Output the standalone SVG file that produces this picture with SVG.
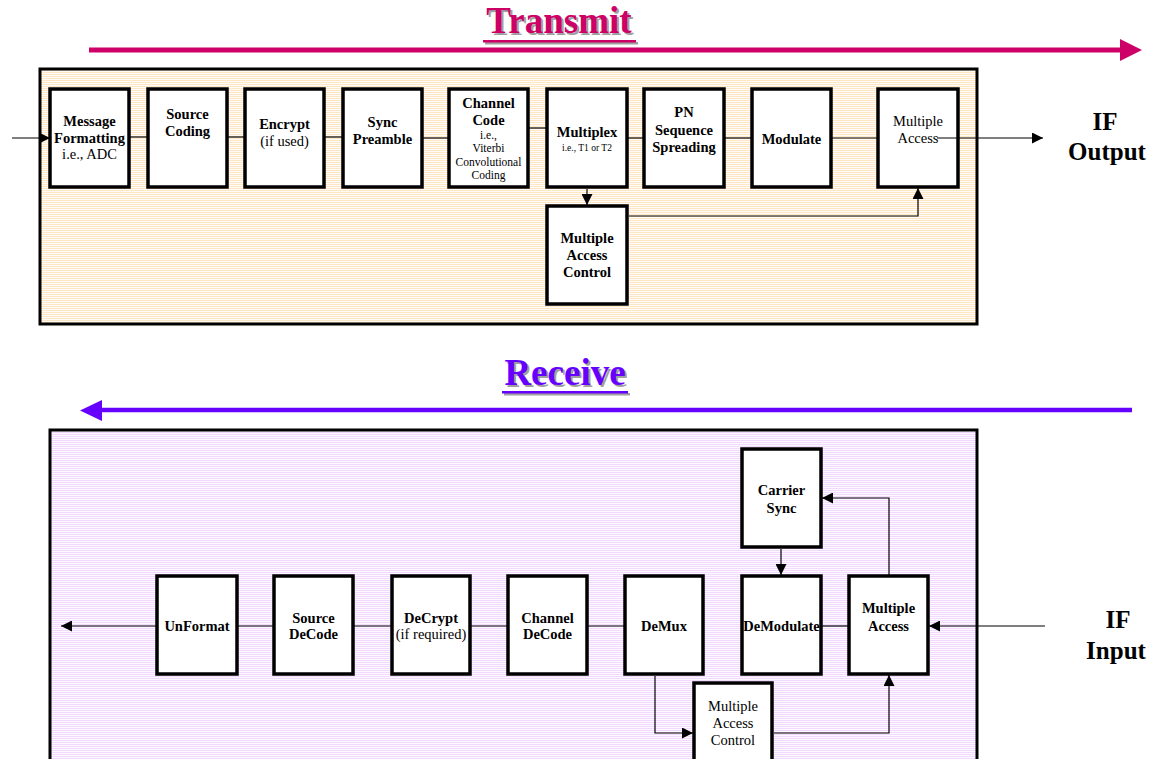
<svg xmlns="http://www.w3.org/2000/svg" width="1154" height="759" viewBox="0 0 1154 759">
<defs>
<pattern id="peach" width="4" height="2" patternUnits="userSpaceOnUse"><rect width="4" height="2" fill="#FFFCF7"/><rect width="4" height="1" fill="#FFE6C4"/></pattern>
<pattern id="lav" width="4" height="2" patternUnits="userSpaceOnUse"><rect width="4" height="2" fill="#FEF9FF"/><rect width="4" height="1" fill="#F2D9FF"/></pattern>
<marker id="ah" viewBox="0 0 10 10" refX="10" refY="5" markerWidth="11" markerHeight="11" markerUnits="userSpaceOnUse" orient="auto"><path d="M0,0 L10,5 L0,10 Z" fill="#000"/></marker>
</defs>
<style>
.box{fill:#fff;stroke:#000;stroke-width:3.5}
.panel{stroke:#000;stroke-width:3}
.c{fill:none;stroke:#000;stroke-width:1.2}
.ca{fill:none;stroke:#000;stroke-width:1.2;marker-end:url(#ah)}
text{font-family:"Liberation Serif","Times New Roman",serif;text-anchor:middle;fill:#000}
.b{font-weight:bold;font-size:14.5px}
.r{font-size:14.5px}
.s{font-size:11.5px}
.xs{font-size:9.5px}
.big{font-weight:bold;font-size:25px}
.title{font-weight:bold;font-size:37px}
</style>

<!-- Titles -->
<g id="transmit-title">
<text x="561" y="35" class="title" style="fill:#A0A0A0">Transmit</text>
<rect x="485" y="42" width="153" height="2.5" fill="#A0A0A0"/>
<text x="559" y="33" class="title" style="fill:#CC0066">Transmit</text>
<rect x="483" y="40" width="153" height="2.5" fill="#CC0066"/>
<line x1="89" y1="50" x2="1122" y2="50" stroke="#CC0066" stroke-width="5"/>
<polygon points="1120,39 1142,50 1120,61" fill="#CC0066"/>
</g>
<g id="receive-title">
<text x="567" y="387" class="title" style="fill:#A0A0A0">Receive</text>
<rect x="504" y="393" width="126" height="2.5" fill="#A0A0A0"/>
<text x="565" y="385" class="title" style="fill:#6600FF">Receive</text>
<rect x="502" y="391" width="126" height="2.5" fill="#6600FF"/>
<line x1="100" y1="410" x2="1132" y2="410" stroke="#6600FF" stroke-width="4.5"/>
<polygon points="102,400 80,410.5 102,421" fill="#6600FF"/>
</g>

<!-- Panels -->
<rect id="tx-panel" class="panel" x="40" y="69" width="937" height="255" fill="url(#peach)"/>
<rect id="rx-panel" class="panel" x="50" y="430" width="927" height="340" fill="url(#lav)"/>

<!-- Transmit nodes -->
<g id="msg-format"><rect class="box" x="50" y="89" width="79" height="98"/>
<text x="89.5" y="126" class="b">Message</text><text x="89.5" y="143" class="b">Formatting</text><text x="89.5" y="159" class="r">i.e., ADC</text></g>
<g id="source-coding"><rect class="box" x="148" y="89" width="79" height="98"/>
<text x="187.5" y="119" class="b">Source</text><text x="187.5" y="136" class="b">Coding</text></g>
<g id="encrypt"><rect class="box" x="245" y="89" width="79" height="98"/>
<text x="284.5" y="129" class="b">Encrypt</text><text x="284.5" y="146" class="r">(if used)</text></g>
<g id="sync-preamble"><rect class="box" x="343" y="89" width="79" height="98"/>
<text x="382.5" y="127" class="b">Sync</text><text x="382.5" y="144" class="b">Preamble</text></g>
<g id="channel-code"><rect class="box" x="449" y="89" width="79" height="98"/>
<text x="488.5" y="108" class="b">Channel</text><text x="488.5" y="125" class="b">Code</text>
<text x="488.5" y="139" class="s">i.e.,</text><text x="488.5" y="152" class="s">Viterbi</text><text x="488.5" y="166" class="s">Convolutional</text><text x="488.5" y="179" class="s">Coding</text></g>
<g id="multiplex"><rect class="box" x="547" y="89" width="80" height="98"/>
<text x="587" y="137" class="b">Multiplex</text><text x="587" y="151" class="xs">i.e., T1 or T2</text></g>
<g id="pn-spreading"><rect class="box" x="644" y="89" width="80" height="98"/>
<text x="684" y="117" class="b">PN</text><text x="684" y="135" class="b">Sequence</text><text x="684" y="152" class="b">Spreading</text></g>
<g id="modulate"><rect class="box" x="752" y="89" width="79" height="98"/>
<text x="791.5" y="144" class="b">Modulate</text></g>
<g id="tx-multiple-access"><rect class="box" x="878" y="89" width="80" height="98"/>
<text x="918" y="126" class="r">Multiple</text><text x="918" y="143" class="r">Access</text></g>
<g id="tx-mac"><rect class="box" x="547" y="206" width="80" height="98"/>
<text x="587" y="243" class="b">Multiple</text><text x="587" y="260" class="b">Access</text><text x="587" y="277" class="b">Control</text></g>
<g id="if-output"><text x="1105" y="130" class="big">IF</text><text x="1107" y="160" class="big">Output</text></g>

<!-- Receive nodes -->
<g id="unformat"><rect class="box" x="157" y="576" width="80" height="98"/>
<text x="197" y="631" class="b">UnFormat</text></g>
<g id="source-decode"><rect class="box" x="274" y="576" width="79" height="98"/>
<text x="313.5" y="623" class="b">Source</text><text x="313.5" y="639" class="b">DeCode</text></g>
<g id="decrypt"><rect class="box" x="392" y="576" width="78" height="98"/>
<text x="431" y="623" class="b">DeCrypt</text><text x="431" y="639" class="r">(if required)</text></g>
<g id="channel-decode"><rect class="box" x="508" y="576" width="79" height="98"/>
<text x="547.5" y="623" class="b">Channel</text><text x="547.5" y="639" class="b">DeCode</text></g>
<g id="demux"><rect class="box" x="625" y="576" width="78" height="98"/>
<text x="664" y="631" class="b">DeMux</text></g>
<g id="demodulate"><rect class="box" x="742" y="576" width="79" height="98"/>
<text x="781.5" y="631" class="b">DeModulate</text></g>
<g id="rx-multiple-access"><rect class="box" x="849" y="576" width="79" height="98"/>
<text x="888.5" y="613" class="b">Multiple</text><text x="888.5" y="631" class="b">Access</text></g>
<g id="carrier-sync"><rect class="box" x="742" y="449" width="79" height="98"/>
<text x="781.5" y="495" class="b">Carrier</text><text x="781.5" y="513" class="b">Sync</text></g>
<g id="rx-mac"><rect class="box" x="694" y="683" width="78" height="98"/>
<text x="733" y="711" class="r">Multiple</text><text x="733" y="728" class="r">Access</text><text x="733" y="745" class="r">Control</text></g>
<g id="if-input"><text x="1118" y="628" class="big">IF</text><text x="1116" y="659" class="big">Input</text></g>

<!-- Connectors -->
<g id="connectors">
<line class="ca" x1="12" y1="138" x2="50" y2="138"/>
<line class="c" x1="130" y1="137" x2="147" y2="137"/>
<line class="c" x1="228" y1="137" x2="244" y2="137"/>
<line class="c" x1="325" y1="137" x2="342" y2="137"/>
<line class="c" x1="423" y1="138" x2="448" y2="138"/>
<line class="c" x1="529" y1="128" x2="546" y2="128"/>
<line class="c" x1="628" y1="138" x2="643" y2="138"/>
<line class="c" x1="725" y1="138" x2="751" y2="138"/>
<line class="c" x1="832" y1="138" x2="877" y2="138"/>
<line class="ca" x1="937" y1="138" x2="1043" y2="138"/>
<line class="ca" x1="587" y1="189" x2="587" y2="205"/>
<polyline class="ca" points="629,216 918,216 918,188"/>

<line class="ca" x1="156" y1="626" x2="61" y2="626"/>
<line class="c" x1="238" y1="626" x2="273" y2="626"/>
<line class="c" x1="354" y1="626" x2="391" y2="626"/>
<line class="c" x1="471" y1="626" x2="507" y2="626"/>
<line class="c" x1="588" y1="626" x2="624" y2="626"/>
<line class="c" x1="822" y1="626" x2="848" y2="626"/>
<line class="ca" x1="1045" y1="626" x2="929" y2="626"/>
<polyline class="ca" points="889,575 889,498 822,498"/>
<line class="ca" x1="781" y1="549" x2="781" y2="575"/>
<polyline class="ca" points="655,676 655,733 693,733"/>
<polyline class="ca" points="774,733 889,733 889,675"/>
</g>
</svg>
